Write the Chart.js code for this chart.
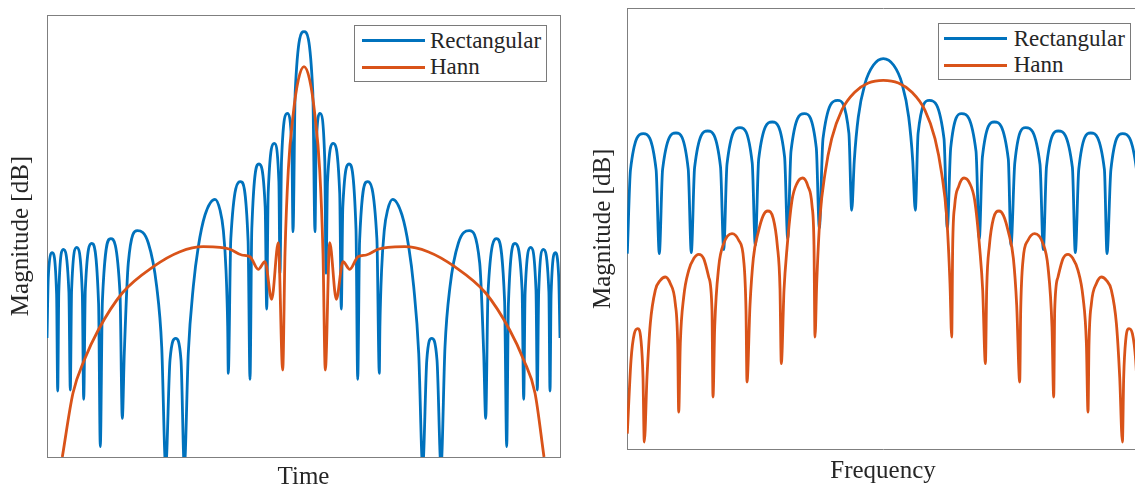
<!DOCTYPE html>
<html>
<head>
<meta charset="utf-8">
<title>Window spectra</title>
<script src="https://cdn.jsdelivr.net/npm/chart.js@4.4.1/dist/chart.umd.min.js"></script>
<style>
  html, body { margin: 0; padding: 0; background: #fff; overflow: hidden; width: 1135px; height: 486px; }
  .panel { position: absolute; top: 0; width: 600px; height: 520px; }
  .panel canvas { position: absolute; left: 0; top: 0; }
  .legend { position: absolute; box-sizing: border-box; width: 193px; height: 57px; border: 1px solid #7a7a7a; background: #fff; }
  .legend .line { position: absolute; height: 3px; width: 63px; }
  .legend .txt { position: absolute; font-family: "Liberation Serif", serif; font-size: 23px; line-height: 26px; color: #262626; white-space: nowrap; }
</style>
</head>
<body>
<div class="panel" id="leftPanel" style="left:0px"><canvas id="timeChart" width="600" height="520"></canvas><div class="legend" id="timeLegend"></div></div>
<div class="panel" id="rightPanel" style="left:580px"><canvas id="freqChart" width="600" height="520"></canvas><div class="legend" id="freqLegend"></div></div>
<script>
// series labels
var seriesNames = ['Rectangular', 'Hann'];

// time domain, [sample, magnitude] (no ticks, arbitrary units)
var timeRect = [
  [0,119],[1.3,180],[5.3,204.3],[9.6,163],[10.7,66],
  [11.8,165],[16.3,207.7],[21.9,165],[23.3,67],
  [24.6,167],[29.7,209.7],[35.3,164],[36.7,57.7],
  [38.3,167],[44.7,213.7],[51.6,153],[53.3,10.3],
  [55.4,156],[63.7,218.3],[73,164],[75.3,38.7],
  [77.3,104],[81.3,194],[90.3,226.3],[101.3,214],[109.7,170.3],[114.7,110.3],[118.7,-10],
  [123,97],[128.7,118.7],[134,97],[137.3,-10],
  [141.3,104],[146.3,170.3],[151.3,210.3],[158,242],[168,257.7],[173,247],[176.3,227],[179,187],[180.7,130.3],[181.3,83.7],
  [183.8,218],[193.7,275.3],[201.1,216],[203,77.7],
  [204.8,228],[212,293],[218.2,249.5],[219.7,148],
  [221.2,264],[227.3,313.7],[231.9,275],[233,183.7],
  [234.5,296],[240.3,343.7],[244.9,308],[246,225.3],
  [248.2,365],[257,425.3],[265.8,365],[268,225.3],
  [269.1,308],[273,343.7],[277.8,296],[279,183.7],
  [280.5,275],[286.3,313.7],[292.7,264],[294.3,148],
  [295.8,249.5],[302,293],[309,228],[310.7,77.7],
  [312.6,216],[320.3,275.3],[329.9,218],[332.3,83.7],
  [332.9,130],[334.6,187],[337.3,227],[340.6,247],[345.7,257.7],[355,242],[361.7,210.3],[366.7,170.3],[371.7,104],[375.7,-10],
  [379.8,97],[384.7,118.7],[390,97],[394,-10],
  [398,110.3],[403,170.3],[411.4,214],[422.3,226.3],[432.7,194],[436.7,104],[438.7,38.7],
  [441,164],[449.7,218.3],[457.6,156],[459.7,10.3],
  [461.4,153],[468,213.7],[475.1,167],[476.7,57.7],
  [478.1,164],[483.7,209.7],[489,167],[490.3,67],
  [491.7,165],[496.3,207.7],[501.9,165],[503,66],
  [504.1,163],[508.3,204.3],[511.7,180],[513,119]
];
var timeHann = [
  [15.3,0],[26,64],[37.3,97],[51.3,127],[75.3,164],[106.3,190.3],[133,205.3],[156.3,210.3],
  [173,209.7],[183,207.7],[194.7,202],[203,200.3],[211.3,187.7],[218,195.3],[224.7,157.7],
  [231.3,214.3],[235.7,87],[238,203.7],[241.3,287],[246.3,343.7],[251.3,377],[257,390.3],
  [262.7,377],[267.7,343.7],[272.7,287],[276,203.7],[278.3,87],[282.7,214.3],[289.3,157.7],
  [296,195.3],[302.7,187.7],[311,200.3],[319.3,202],[331,207.7],[341,209.7],[357.7,210.3],
  [381,205.3],[407.7,190.3],[438.7,164],[462.7,127],[476.7,97],[488,64],[497,0]
];

// frequency domain, [bin, magnitude]
var freqRect = [
  [0.3,195.7],[3.5,279.7],[16.3,315.7],[29.1,279.7],[32.3,195.7],
  [35.6,280],[49,316.3],[61.2,280.4],[64.3,196.7],
  [67.6,281.8],[80.7,318.3],[93.5,282.7],[96.7,199.7],
  [100,285.1],[113,321.7],[125.2,286.4],[128.3,204],
  [131.7,290.3],[145.3,327.3],[157.6,292.3],[160.7,210.7],
  [164,298.2],[177.3,335.7],[189.3,301.4],[192.3,221.3],
  [196,310.7],[210.7,349],[221.9,316],[224.7,239],
  [227.3,289],[231.3,332.3],[238,365.7],[246.3,384],[256.3,390.7],[266.7,384],[275,365.7],[281.7,332.3],[285.7,289],[288.3,239],
  [291.1,316],[302.3,349],[317,310.7],[320.3,221.3],
  [323.7,301.4],[334.7,335.7],[349,298.2],[352.3,210.7],
  [355.4,292.3],[367.3,327.3],[381.3,290.3],[384,204],
  [387.8,286.4],[398.7,321.7],[413,285.1],[416.3,199.7],
  [419.5,282.7],[431.3,318.3],[445.4,281.8],[448.3,196.7],
  [451.8,280.4],[463.7,316.3],[477.4,280],[480,195.7],
  [483.9,279.7],[495.7,315.7],[509.5,279.7],[512.7,195.7]
];
var freqHann = [
  [0.3,15.7],[4,89],[7.3,115.7],[10.7,120.7],[14,109],[16,72.3],[17.3,7.3],
  [20,72.3],[23.3,125.7],[28.3,159],[33.3,169],[38.3,172.3],[43.3,165.7],[48.3,145.7],[50.7,105.7],[51.7,37.3],
  [53.3,105.7],[56.7,152.3],[61.7,179],[66.7,190.7],[71.7,195],[76.7,190.7],[81.7,172.3],[85,139],[86,52.3],
  [87.7,122.3],[91.7,182.3],[96.7,205.7],[105,215.7],[111.7,209],[116.7,189],[119,139],[120,67.3],
  [123,144],[126.3,190.7],[131.3,217.3],[136.3,234],[140.7,238.3],[146.3,230.7],[150.3,204],[153,160.7],[154.3,85.7],
  [157,159],[160,201],[165,249],[170,266],[175.7,271.3],[181,263],[185,244],[187,204],[188,112.3],
  [189.7,165.7],[193,232.3],[198,275.7],[204.7,310.7],[214.7,339],[228,357.3],[241.3,366.3],[256.3,369],
  [271.4,366.3],[284.7,357.3],[298,339],[308,310.7],[314.7,275.7],[319.7,232.3],[323,165.7],[324.7,112.3],
  [325.7,204],[327.7,244],[331.7,263],[337,271.3],[342.7,266],[347.7,249],[352.7,201],[355.7,159],[358.4,85.7],
  [359.7,160.7],[362.4,204],[366.4,230.7],[372,238.3],[376.4,234],[381.4,217.3],[386.4,190.7],[389.7,144],[392.7,67.3],
  [393.7,139],[396,189],[401,209],[407.7,215.7],[416,205.7],[421,182.3],[425,122.3],[426.7,52.3],
  [427.7,139],[431,172.3],[436,190.7],[441,195],[446,190.7],[451,179],[456,152.3],[459.4,105.7],[461,37.3],
  [462,105.7],[464.4,145.7],[469.4,165.7],[474.4,172.3],[479.4,169],[484.4,159],[489.4,125.7],[492.7,72.3],[495.4,7.3],
  [496.7,72.3],[498.7,109],[502,120.7],[505.4,115.7],[508.7,89],[512.4,15.7]
];

var blue = '#0072BD';
var orange = '#D95319';
var frame = '#7f7f7f';
var serif = '"Liberation Serif", "Times New Roman", serif';

function toXY(arr) {
  return arr.map(function (p) { return { x: p[0], y: p[1] }; });
}

// legend drawn as html from the chart's own datasets, placed inside the plot box
var htmlLegend = {
  id: 'htmlLegend',
  afterUpdate: function (chart, args, opts) {
    var box = document.getElementById(opts.id);
    var area = chart.chartArea;
    box.style.left = (area.right - opts.right - 193) + 'px';
    box.style.top = (area.top + opts.top) + 'px';
    box.innerHTML = '';
    chart.data.datasets.forEach(function (ds, i) {
      var cy = 15.5 + i * 26.6 - 1;
      var ln = document.createElement('div');
      ln.className = 'line';
      ln.style.background = ds.borderColor;
      ln.style.left = opts.lineLeft + 'px';
      ln.style.top = (cy - 1.5) + 'px';
      var tx = document.createElement('div');
      tx.className = 'txt';
      tx.textContent = ds.label;
      tx.style.left = '75px';
      tx.style.top = (cy - 13) + 'px';
      box.appendChild(ln);
      box.appendChild(tx);
    });
  }
};

function hiddenAxis(pos, max) {
  return {
    type: 'linear', position: pos, min: 0, max: max,
    ticks: { display: false },
    grid: { display: false, drawTicks: false },
    border: { display: true, color: frame, width: 1 }
  };
}

function makeChart(canvasId, rect, hann, cfg) {
  var xAxis = hiddenAxis('bottom', cfg.xMax);
  xAxis.title = { display: true, text: cfg.xTitle, color: '#262626', font: { family: serif, size: 25 }, padding: cfg.xPad };
  var yAxis = hiddenAxis('left', cfg.yMax);
  yAxis.title = { display: true, text: 'Magnitude [dB]', color: '#262626', font: { family: serif, size: 25 }, padding: cfg.yPad };

  return new Chart(document.getElementById(canvasId), {
    type: 'line',
    data: {
      datasets: [
        { label: seriesNames[0], data: toXY(rect), borderColor: blue, order: 2, clip: 0 },
        { label: seriesNames[1], data: toXY(hann), borderColor: orange, order: 1, clip: 0 }
      ]
    },
    options: {
      responsive: false,
      animation: false,
      devicePixelRatio: 1,
      layout: { padding: cfg.pad },
      elements: {
        point: { radius: 0 },
        line: { borderWidth: 2.8, cubicInterpolationMode: 'monotone', fill: false }
      },
      scales: {
        x: xAxis,
        y: yAxis,
        x2: hiddenAxis('top', cfg.xMax),
        y2: hiddenAxis('right', cfg.yMax)
      },
      plugins: {
        legend: { display: false },
        tooltip: { enabled: false },
        htmlLegend: cfg.legend
      }
    },
    plugins: [htmlLegend]
  });
}

makeChart('timeChart', timeRect, timeHann, {
  xTitle: 'Time', xMax: 513, yMax: 442,
  pad: { left: 0, top: 15, right: 40, bottom: 0 },
  xPad: { top: 5, bottom: 28 },
  yPad: { top: 6.5, bottom: 10.5 },
  legend: { id: 'timeLegend', right: 13, top: 10, lineLeft: 6.7 }
});

makeChart('freqChart', freqRect, freqHann, {
  xTitle: 'Frequency', xMax: 512, yMax: 441,
  pad: { left: 0, top: 8.3, right: 41, bottom: 0 },
  xPad: { top: 6.7, bottom: 34 },
  yPad: { top: 8.5, bottom: 8.5 },
  legend: { id: 'freqLegend', right: 8.3, top: 15, lineLeft: 5.7 }
});
</script>
</body>
</html>
